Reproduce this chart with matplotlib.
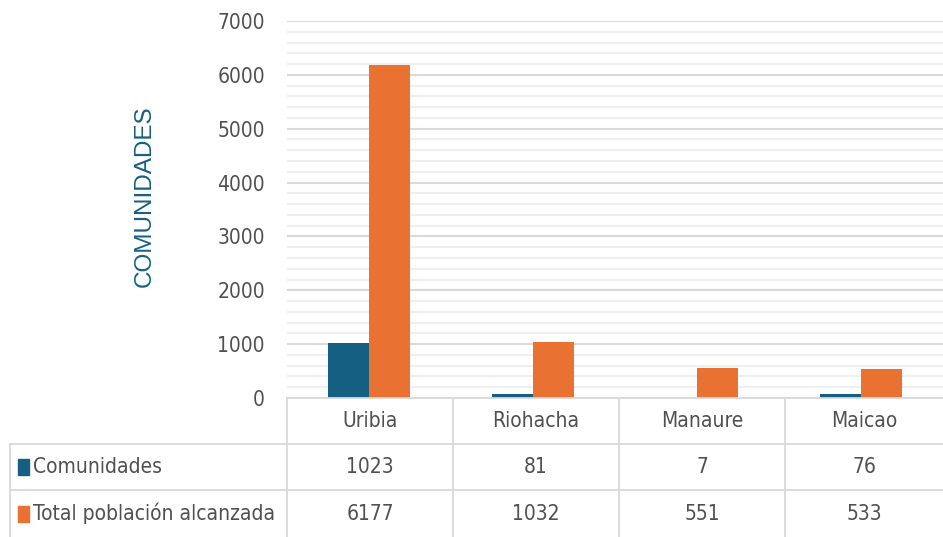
import matplotlib.pyplot as plt
from matplotlib.lines import Line2D
import numpy as np

# Data
municipios = ["Uribia", "Riohacha", "Manaure", "Maicao"]
comunidades = [1023, 81, 7, 76]
poblacion = [6177, 1032, 551, 533]
series_names = ["Comunidades", "Total población alcanzada"]

BLUE = "#156082"
ORANGE = "#E97132"
GRID = "#d9d9d9"
TEXT = "#505050"
FONT = dict(family="DejaVu Sans", stretch="condensed", fontsize=15, color=TEXT)

W, H = 943, 537
fig = plt.figure(figsize=(W / 100, H / 100), dpi=100)


def fx(px):
    return px / W


def fy(py):
    return 1 - py / H


ax = fig.add_axes([fx(287), fy(398), fx(943) - fx(287), fy(21) - fy(398)])

x = np.arange(len(municipios))
w = 0.25
ax.bar(x - w / 2, comunidades, w, color=BLUE, zorder=3)
ax.bar(x + w / 2, poblacion, w, color=ORANGE, zorder=3)

ax.set_xlim(-0.5, len(municipios) - 0.5)
ax.set_ylim(0, 7000)
ax.set_yticks(np.arange(0, 7001, 200), minor=True)
ax.grid(axis="y", which="major", color=GRID, linewidth=1.5, zorder=0)
ax.grid(axis="y", which="minor", color="#efefef", linewidth=1.5, zorder=0)
ax.tick_params(axis="y", which="both", length=0, pad=16)
ax.set_yticks(np.arange(0, 7001, 1000), [str(v) for v in range(0, 7001, 1000)], **FONT)
ax.set_xticks([])
for s in ax.spines.values():
    s.set_visible(False)

fig.text(fx(145), fy(196), "COMUNIDADES", rotation=90, color=BLUE,
         fontsize=17.5, family="Liberation Sans", ha="center", va="center")

# Data table drawn under the axes
line_kw = dict(color=GRID, linewidth=1.3, transform=fig.transFigure)
col_edges = [287, 453, 619, 785, 943]
row_edges = [398, 444, 490, 537]
fig.add_artist(Line2D([fx(287), fx(943)], [fy(398), fy(398)], **line_kw))
for yy in row_edges[1:3]:
    fig.add_artist(Line2D([fx(10), fx(943)], [fy(yy), fy(yy)], **line_kw))
for xx in col_edges[:-1]:
    fig.add_artist(Line2D([fx(xx), fx(xx)], [fy(398), fy(537)], **line_kw))
fig.add_artist(Line2D([fx(10), fx(10)], [fy(444), fy(537)], **line_kw))

row_mid = [(row_edges[i] + row_edges[i + 1]) / 2 for i in range(3)]
for i, m in enumerate(municipios):
    cx = (col_edges[i] + col_edges[i + 1]) / 2
    fig.text(fx(cx), fy(row_mid[0]), m, ha="center", va="center", **FONT)
    fig.text(fx(cx), fy(row_mid[1]), str(comunidades[i]), ha="center", va="center", **FONT)
    fig.text(fx(cx), fy(row_mid[2]), str(poblacion[i]), ha="center", va="center", **FONT)

for r, (name, col) in enumerate(zip(series_names, [BLUE, ORANGE])):
    yc = row_mid[r + 1]
    fig.patches.append(plt.Rectangle((fx(18), fy(yc + 8)), fx(11), fy(yc - 8) - fy(yc + 8),
                                     color=col, transform=fig.transFigure))
    fig.text(fx(33), fy(yc), name, ha="left", va="center", **FONT)

fig.savefig("out.png", dpi=100)
